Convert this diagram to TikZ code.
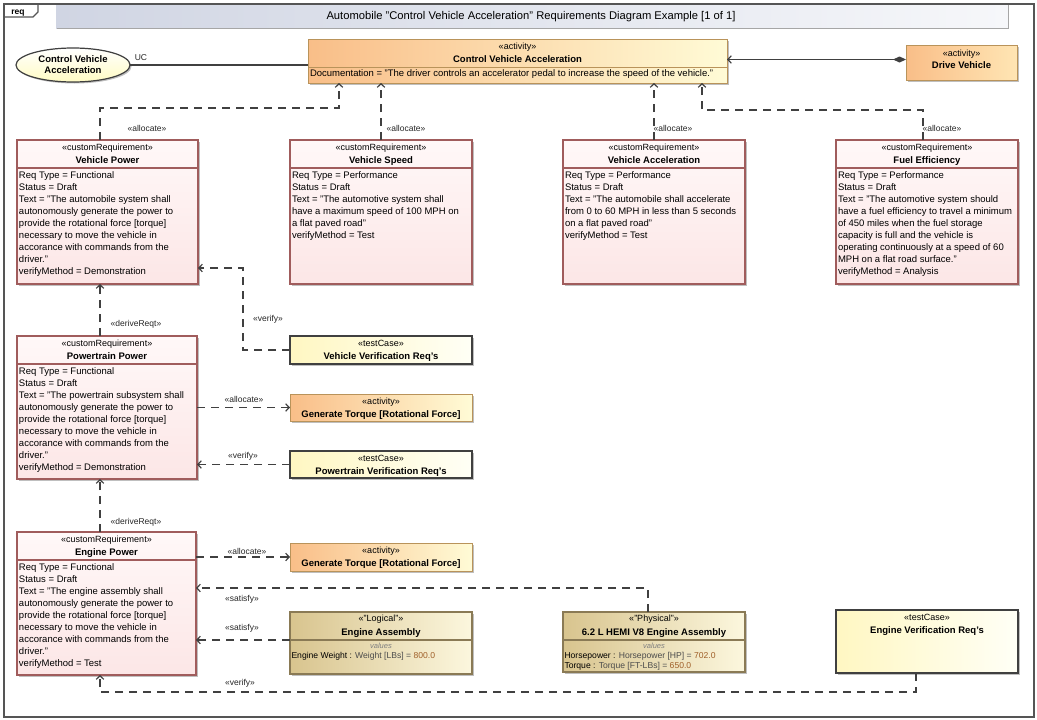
\documentclass[tikz,border=0pt]{standalone}
\usepackage{fontspec}
\setmainfont{Liberation Sans}
\usetikzlibrary{arrows.meta,shadows,calc,shapes.geometric}
\definecolor{reqborder}{HTML}{A05C5C}
\definecolor{reqtop}{HTML}{FFF8F8}
\definecolor{reqbot}{HTML}{FCE6E6}
\definecolor{actborder}{HTML}{B9935A}
\definecolor{actl}{HTML}{F9BE88}
\definecolor{actr}{HTML}{FFFBD6}
\definecolor{tcborder}{HTML}{404040}
\definecolor{tcl}{HTML}{FFF7C2}
\definecolor{tcr}{HTML}{FFFFF6}
\definecolor{blkborder}{HTML}{8A7A55}
\definecolor{blkl}{HTML}{D8C48E}
\definecolor{blkr}{HTML}{FCF7DE}
\definecolor{conncol}{HTML}{404040}
\definecolor{valcol}{HTML}{A0602A}
\definecolor{framecol}{HTML}{555555}
\definecolor{barl}{HTML}{D0D5E3}
\definecolor{barr}{HTML}{F6F7FA}
\newcommand\lines[1]{\begin{tabular}[t]{@{}l@{}}#1\end{tabular}}
\tikzset{
  every node/.style={inner sep=0pt, outer sep=0pt},
  shad/.style={drop shadow={shadow xshift=1.5pt, shadow yshift=-1.5pt, opacity=0.25, fill=black}},
  reqbx/.style={draw=reqborder, line width=1.2pt, top color=reqtop, bottom color=reqbot, shad},
  actbx/.style={draw=actborder, line width=1pt, left color=actl, right color=actr, shad},
  tcbx/.style={draw=tcborder, line width=1.3pt, left color=tcl, right color=tcr, shad},
  blkbx/.style={draw=blkborder, line width=1.1pt, left color=blkl, right color=blkr, shad},
  stf/.style={font=\fontsize{9}{11}\selectfont, anchor=base},
  ttf/.style={font=\bfseries\fontsize{9.5}{11}\selectfont, anchor=base},
  bodyf/.style={font=\fontsize{9.5}{12}\selectfont, anchor=base west},
  valf/.style={font=\fontsize{8.6}{10}\selectfont, anchor=base west},
  lbl/.style={font=\fontsize{8.5}{10}\selectfont, text=black!85},
  conn/.style={draw=conncol, line width=1.3pt, dash pattern=on 8pt off 6pt},
  arr/.style={-{Straight Barb[length=3.5pt,width=7.5pt,line width=1.2pt]}},
}
% requirement box: name, x, y, w, h, title, body
\newcommand\reqnode[7]{%
  \node[reqbx, minimum width=#4pt, minimum height=#5pt, anchor=north west] (#1) at (#2,-#3) {};
  \node[stf] at ([yshift=-10.5pt]#1.north) {«customRequirement»};
  \node[ttf] at ([yshift=-23.5pt]#1.north) {#6};
  \draw[draw=reqborder, line width=1.1pt] ([yshift=-28pt]#1.north west) -- ([yshift=-28pt]#1.north east);
  \node[bodyf] at ([xshift=2pt,yshift=-38.5pt]#1.north west) {\lines{#7}};
}
% two-line box: style, name, x, y, w, h, stereotype, title
\newcommand\twonode[8]{%
  \node[#1, minimum width=#5pt, minimum height=#6pt, anchor=north west] (#2) at (#3,-#4) {};
  \node[stf] at ([yshift=-10.5pt]#2.north) {#7};
  \node[ttf] at ([yshift=-23.5pt]#2.north) {#8};
}
\begin{document}
\begin{tikzpicture}[x=1pt,y=1pt]
\useasboundingbox (0,0) rectangle (1037,-720);
% frame
\fill[white] (0,0) rectangle (1037,-720);
\fill[left color=barl, right color=barr] (56,-4) rectangle (1008,-28);
\draw[black!35, line width=1.5pt] (57,-28.5) -- (1008.5,-28.5) -- (1008.5,-4);
\node[font=\fontsize{11.2}{13}\selectfont] (title) at (531,-17) {Automobile "Control Vehicle Acceleration" Requirements Diagram Example [1 of 1]};
\draw[framecol, line width=1.5pt] (4,-4) rectangle (1034,-717);
\draw[framecol, line width=1.1pt] (4,-17) -- (33,-17) -- (38,-12) -- (38,-4);
\node[font=\bfseries\fontsize{8.5}{10}\selectfont, anchor=base] (tab) at (18,-14.5) {req};

% use case
\node[ellipse, draw=black!75, line width=1.2pt, top color=white, bottom color=tcl!80!yellow!60, minimum width=114pt, minimum height=34pt, shad] (uc) at (73,-65) {};
\node[font=\bfseries\fontsize{9.5}{11}\selectfont, align=center] at (uc.center) {Control Vehicle\\Acceleration};

% top activity
\node[actbx, minimum width=419pt, minimum height=44pt, anchor=north west] (cva) at (308,-39) {};
\node[stf] at ([yshift=-10.5pt]cva.north) {«activity»};
\node[ttf] at ([yshift=-23.5pt]cva.north) {Control Vehicle Acceleration};
\draw[draw=actborder, line width=1pt] ([yshift=-28pt]cva.north west) -- ([yshift=-28pt]cva.north east);
\node[bodyf] at ([xshift=2pt,yshift=-37.5pt]cva.north west) {Documentation = "The driver controls an accelerator pedal to increase the speed of the vehicle."};

\node[actbx, left color=actl, right color=actr!80!orange!90, minimum width=111pt, minimum height=35pt, anchor=north west] (dv) at (906,-45) {};
\node[stf] at ([yshift=-11.5pt]dv.north) {«activity»};
\node[ttf] at ([yshift=-23.5pt]dv.north) {Drive Vehicle};

% requirements
\reqnode{vp}{17}{140}{181}{144}{Vehicle Power}{Req Type = Functional\\Status = Draft\\Text = "The automobile system shall\\autonomously generate the power to\\provide the rotational force [torque]\\necessary to move the vehicle in\\accorance with commands from the\\driver."\\verifyMethod = Demonstration}
\reqnode{vs}{290}{140}{182}{144}{Vehicle Speed}{Req Type = Performance\\Status = Draft\\Text = "The automotive system shall\\have a maximum speed of 100 MPH on\\a flat paved road"\\verifyMethod = Test}
\reqnode{va}{563}{140}{182}{144}{Vehicle Acceleration}{Req Type = Performance\\Status = Draft\\Text = "The automobile shall accelerate\\from 0 to 60 MPH in less than 5 seconds\\on a flat paved road"\\verifyMethod = Test}
\reqnode{fe}{836}{140}{182}{144}{Fuel Efficiency}{Req Type = Performance\\Status = Draft\\Text = "The automotive system should\\have a fuel efficiency to travel a minimum\\of 450 miles when the fuel storage\\capacity is full and the vehicle is\\operating continuously at a speed of 60\\MPH on a flat road surface."\\verifyMethod = Analysis}
\reqnode{pp}{17}{336}{180}{143}{Powertrain Power}{Req Type = Functional\\Status = Draft\\Text = "The powertrain subsystem shall\\autonomously generate the power to\\provide the rotational force [torque]\\necessary to move the vehicle in\\accorance with commands from the\\driver."\\verifyMethod = Demonstration}
\reqnode{ep}{17}{532}{179}{143}{Engine Power}{Req Type = Functional\\Status = Draft\\Text = "The engine assembly shall\\autonomously generate the power to\\provide the rotational force [torque]\\necessary to move the vehicle in\\accorance with commands from the\\driver."\\verifyMethod = Test}

% test cases and activities
\twonode{tcbx}{vvr}{290}{336}{182}{28}{«testCase»}{Vehicle Verification Req's}
\twonode{actbx}{gt1}{290}{394}{182}{27}{«activity»}{Generate Torque [Rotational Force]}
\twonode{tcbx}{pvr}{290}{451}{182}{27}{«testCase»}{Powertrain Verification Req's}
\twonode{actbx}{gt2}{290}{543}{182}{28}{«activity»}{Generate Torque [Rotational Force]}
\twonode{tcbx}{evr}{836}{610}{182}{63}{«testCase»}{Engine Verification Req's}

% blocks
\node[blkbx, minimum width=182pt, minimum height=62pt, anchor=north west] (ea) at (290,-612) {};
\node[stf] at ([yshift=-9.5pt]ea.north) {«"Logical"»};
\node[ttf] at ([yshift=-23pt]ea.north) {Engine Assembly};
\draw[draw=blkborder, line width=1.1pt] ([yshift=-28pt]ea.north west) -- ([yshift=-28pt]ea.north east);
\node[font=\itshape\fontsize{7.5}{9}\selectfont, text=black!50, anchor=base] at ([yshift=-36pt]ea.north) {values};
\node[valf] at ([xshift=1.5pt,yshift=-46.5pt]ea.north west) {Engine Weight : \textcolor{black!70}{Weight [LBs] =} \textcolor{valcol}{800.0}};

\node[blkbx, minimum width=182pt, minimum height=60pt, anchor=north west] (hemi) at (563,-612) {};
\node[stf] at ([yshift=-9.5pt]hemi.north) {«"Physical"»};
\node[ttf] at ([yshift=-23pt]hemi.north) {6.2 L HEMI V8 Engine Assembly};
\draw[draw=blkborder, line width=1.1pt] ([yshift=-28pt]hemi.north west) -- ([yshift=-28pt]hemi.north east);
\node[font=\itshape\fontsize{7.5}{9}\selectfont, text=black!50, anchor=base] at ([yshift=-36pt]hemi.north) {values};
\node[valf] at ([xshift=1.5pt,yshift=-46.5pt]hemi.north west) {Horsepower : \textcolor{black!70}{Horsepower [HP] =} \textcolor{valcol}{702.0}};
\node[valf] at ([xshift=1.5pt,yshift=-56pt]hemi.north west) {Torque : \textcolor{black!70}{Torque [FT-LBs] =} \textcolor{valcol}{650.0}};

% connectors
\draw[draw=conncol, line width=1.2pt] (uc.east) -- (uc.east -| cva.west);
\node[lbl] (uclbl) at (141,-58) {UC};
\draw[draw=conncol, line width=1.2pt, {Diamond[length=13pt,width=6pt]}-{Straight Barb[length=3.5pt,width=7.5pt,line width=1.2pt]}] ([yshift=3pt]dv.west) -- ([yshift=3pt]dv.west -| cva.east);

\coordinate (a1) at (339,-108);
\draw[conn,arr] ([xshift=83pt]vp.north west) |- (a1) -- (a1 |- cva.south);
\node[lbl] at (147,-128) {«allocate»};
\draw[conn,arr] (vs.north) -- (vs.north |- cva.south);
\node[lbl] at (406,-128) {«allocate»};
\draw[conn,arr] (va.north) -- (va.north |- cva.south);
\node[lbl] at (673,-128) {«allocate»};
\coordinate (a2) at (702,-110);
\draw[conn,arr] ([xshift=87pt]fe.north west) |- (a2) -- (a2 |- cva.south);
\node[lbl] at (942,-128) {«allocate»};

\coordinate (v1) at (243,-268);
\draw[conn,arr] (vvr.west) -| (v1) -- (v1 -| vp.east);
\node[lbl] at (268,-319) {«verify»};

\draw[conn,arr] ([xshift=83pt]pp.north west) -- ([xshift=83pt]vp.south west);
\node[lbl] at (136,-324) {«deriveReqt»};
\draw[conn,arr] (gt1.west -| pp.east) -- (gt1.west);
\node[lbl] at (244,-399) {«allocate»};
\draw[conn,arr] (pvr.west) -- (pvr.west -| pp.east);
\node[lbl] at (243,-456) {«verify»};

\draw[conn,arr] ([xshift=83pt]ep.north west) -- ([xshift=83pt]pp.south west);
\node[lbl] at (136,-522) {«deriveReqt»};
\draw[conn,arr] (gt2.west -| ep.east) -- (gt2.west);
\node[lbl] at (247,-551) {«allocate»};
\coordinate (s1) at (648,-588);
\draw[conn,arr] (hemi.north -| s1) -- (s1) -- (s1 -| ep.east);
\node[lbl] at (242,-599) {«satisfy»};
\coordinate (s2) at (290,-640);
\draw[conn,arr] (ea.west |- s2) -- (s2 -| ep.east);
\node[lbl] at (242,-628) {«satisfy»};
\coordinate (v2) at (916,-692);
\draw[conn,arr] (evr.south -| v2) -- (v2) -| ([xshift=83pt]ep.south west);
\node[lbl] at (240,-683) {«verify»};
\end{tikzpicture}
\end{document}
